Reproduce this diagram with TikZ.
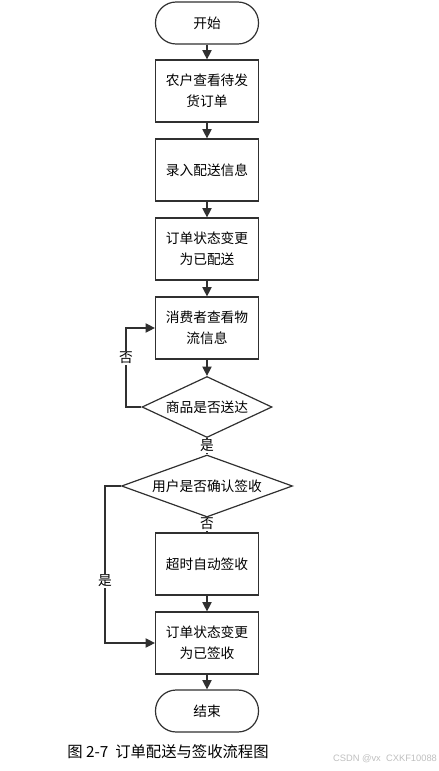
\documentclass[tikz,border=0pt]{standalone}
\usepackage{fontspec}
\newfontfamily\cjk{Noto Sans CJK SC}
\setsansfont{Liberation Sans}
\usetikzlibrary{shapes.geometric,arrows.meta}
\definecolor{linegray}{HTML}{303030}
\begin{document}
\begin{tikzpicture}[x=0.75pt,y=-0.75pt,
    every node/.style={font=\cjk\fontsize{10.3}{16}\selectfont, text=black},
    procbox/.style={draw=linegray, line width=0.9pt, minimum width=77.25pt, minimum height=46.5pt, align=center, inner sep=0pt},
    termbox/.style={draw=linegray, line width=0.9pt, rounded corners=15.5pt, minimum width=77.25pt, minimum height=31.5pt, inner sep=0pt},
    decbox/.style={draw=linegray, line width=0.9pt, diamond, aspect=2.6, inner sep=0pt},
    flow/.style={draw=linegray, line width=0.9pt, -{Triangle[length=7pt,width=7pt]}}]
  \useasboundingbox (0,0) rectangle (439,771);
  % nodes
    \node[termbox] (start) at (207,23) {开始};
    \node[procbox] (look) at (207,91) {农户查看待发\\货订单};
    \node[procbox] (enter) at (207,170) {录入配送信息};
    \node[procbox] (sent) at (207,249) {订单状态变更\\为已配送};
    \node[procbox] (track) at (207,328) {消费者查看物\\流信息};
    \node[decbox, minimum width=97.5pt, minimum height=45.75pt] (arrived) at (207,407) {商品是否送达};
    \node[decbox, minimum width=128.25pt, minimum height=46.5pt] (confirm) at (207,486) {用户是否确认签收};
    \node[procbox] (auto) at (207,564) {超时自动签收};
    \node[procbox] (signed) at (207,643) {订单状态变更\\为已签收};
    \node[termbox] (stop) at (207,711) {结束};
    \coordinate (loopa) at (126,407);
    \coordinate (loopb) at (105,486);
  % arrows
    \draw[flow] (start) -- (look);
    \draw[flow] (look) -- (enter);
    \draw[flow] (enter) -- (sent);
    \draw[flow] (sent) -- (track);
    \draw[flow] (track) -- (arrived);
    \draw[draw=linegray, line width=0.9pt] (arrived) -- (confirm);
    \draw[draw=linegray, line width=0.9pt] (confirm) -- (auto);
    \draw[flow] (auto) -- (signed);
    \draw[flow] (signed) -- (stop);
    \draw[flow] (arrived.west) -- (loopa) |- (track.west);
    \draw[flow] (confirm.west) -- (loopb) |- (signed.west);
  % labels
    \node[fill=white, inner sep=1pt] (noa) at (126,358) {否};
    \node[fill=white, inner sep=1pt] (yesa) at (207,446) {是};
    \node[fill=white, inner sep=1pt] (nob) at (207,524) {否};
    \node[fill=white, inner sep=1pt] (yesb) at (105,581) {是};
  % caption
    \node[font=\cjk\fontsize{11.5}{13}\selectfont] (caption) at (168,752) {图 2-7\ \ 订单配送与签收流程图};
    \node[font=\sffamily\fontsize{7}{8}\selectfont, text=black!25] (mark) at (385,759) {CSDN @vx\ \ CXKF10088};
\end{tikzpicture}
\end{document}
